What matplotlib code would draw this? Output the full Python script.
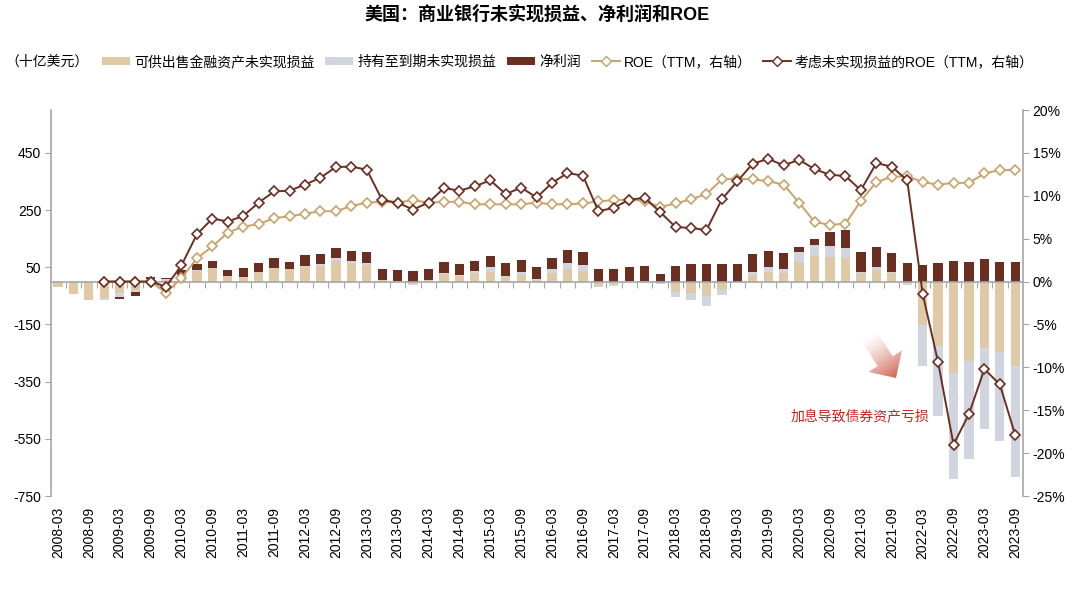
import numpy as np
import matplotlib
matplotlib.use('Agg')
import matplotlib.pyplot as plt
from matplotlib.lines import Line2D
from matplotlib.patches import Patch, Polygon

plt.rcParams['font.family'] = ['Liberation Sans', 'Noto Sans CJK SC']
plt.rcParams['axes.unicode_minus'] = False

quarters = [f"{y}-{m}" for y in range(2008, 2024) for m in ["03", "06", "09", "12"]][:63]

# 十亿美元
afs = [-18, -43, -64, -58, -41, -29, 10, 7, 23, 38,
       47, 20, 17, 35, 48, 44, 50, 55, 72, 64,
       58, 6, 3, -6, 5, 27, 20, 29, 35, 17,
       23, 5, 29, 43, 37, -14, -9, 2, 3, -6,
       -37, -41, -50, -29, -3, 23, 33, 29, 69, 91,
       87, 84, 29, 41, 29, -6, -153, -227, -321, -277,
       -231, -248, -294]
htm = [0, 0, -2, -6, -12, -8, 0, 2, 0, 2,
       2, 0, 0, 0, 0, 0, 6, 7, 9, 9,
       6, 0, 0, -6, 0, 4, 3, 7, 15, 4,
       10, 3, 15, 23, 22, -6, -5, 0, 0, -3,
       -18, -25, -34, -18, 0, 11, 19, 15, 36, 37,
       38, 35, 4, 11, 3, -6, -141, -243, -369, -343,
       -285, -309, -390]
net_income = [0, 0, 0, 0, -7, -15, 5, 2, 17, 23,
              24, 22, 30, 30, 35, 26, 37, 35, 37, 35,
              38, 38, 38, 38, 38, 37, 38, 36, 40, 43,
              42, 42, 40, 45, 46, 43, 43, 48, 52, 27,
              56, 61, 63, 61, 62, 63, 56, 55, 17, 20,
              50, 62, 72, 70, 68, 64, 59, 64, 71, 68,
              79, 70, 68]

# %
nan = np.nan
roe = [nan, nan, nan, 0, 0, 0, 0, -1.3, 0.4, 2.7,
       4.1, 5.7, 6.4, 6.7, 7.4, 7.6, 7.9, 8.2, 8.2, 8.8,
       9.2, 9.3, 9.2, 9.5, 9.2, 9.3, 9.3, 9.0, 9.0, 9.0,
       9.0, 9.2, 9.0, 9.0, 9.1, 9.35, 9.5, 9.55, 9.4, 8.7,
       9.1, 9.6, 10.2, 11.9, 12.0, 11.9, 11.7, 11.3, 9.2, 6.95,
       6.6, 6.75, 9.4, 11.6, 12.2, 12.3, 11.6, 11.3, 11.5, 11.5,
       12.6, 13.0, 13.0]
roe_adj = [nan, nan, nan, 0, 0, 0, 0, -0.6, 1.9, 5.5,
           7.35, 7.0, 7.65, 9.2, 10.5, 10.6, 11.3, 12.1, 13.35, 13.4,
           13.05, 9.5, 9.2, 8.4, 9.2, 10.9, 10.6, 11.1, 11.8, 10.2,
           10.95, 9.8, 11.5, 12.65, 12.35, 8.2, 8.6, 9.55, 9.75, 8.1,
           6.35, 6.25, 6.0, 9.6, 11.7, 13.75, 14.3, 13.55, 14.2, 13.1,
           12.45, 12.3, 10.65, 13.8, 13.4, 11.8, -1.4, -9.4, -19.0, -15.45,
           -10.2, -12.0, -17.9]

tan = '#e0c9a6'
gray_bar = '#d0d5df'
brown = '#6b2f22'
roe_color = '#c9a36c'
axis_gray = '#a6a6a6'

fig = plt.figure(figsize=(10.8, 5.89), dpi=100)
ax = fig.add_axes([51 / 1080, 1 - 496 / 589, 972 / 1080, 386 / 589])
ax2 = ax.twinx()

x = np.arange(len(quarters))
pos_base = np.zeros(len(x))
neg_base = np.zeros(len(x))
for vals, c in [(afs, tan), (htm, gray_bar), (net_income, brown)]:
    v = np.array(vals, float)
    base = np.where(v >= 0, pos_base, neg_base)
    ax.bar(x, v, 0.6, bottom=base, color=c, zorder=2)
    pos_base += np.clip(v, 0, None)
    neg_base += np.clip(v, None, 0)

ax.set_xlim(-0.45, len(x) - 0.5)
ax.set_ylim(-750, 600)
ax.set_yticks(np.arange(-750, 451, 200))
ax.tick_params(axis='y', length=4, color=axis_gray, labelsize=10, pad=3)
ax.spines['bottom'].set_position(('data', 0))
ax.set_xticks(x[:-1] + 0.5)
ax.tick_params(axis='x', length=4, color=axis_gray, labelbottom=False)
for s in ['top', 'right']:
    ax.spines[s].set_visible(False)
for s in ['left', 'bottom']:
    ax.spines[s].set_color(axis_gray)
    ax.spines[s].set_linewidth(1.2)

secx = ax.secondary_xaxis('bottom')
secx.set_xticks(x[::2], labels=[quarters[i] for i in x[::2]], rotation=90)
secx.tick_params(length=0, pad=8, labelsize=10)
secx.spines['bottom'].set_visible(False)

ax2.plot(x, roe, color=roe_color, lw=1.4, marker='D', ms=5.2, mfc='white',
         mec=roe_color, mew=1.2, zorder=3)
ax2.plot(x, roe_adj, color=brown, lw=1.4, marker='D', ms=5.2, mfc='white',
         mec=brown, mew=1.2, zorder=4)
ax2.set_ylim(-25, 20)
ax2.set_yticks(np.arange(-25, 21, 5))
ax2.set_yticklabels([f"{v}%" for v in range(-25, 21, 5)])
ax2.tick_params(axis='y', length=4, color=axis_gray, labelsize=10, pad=3)
for s in ['top', 'left', 'bottom']:
    ax2.spines[s].set_visible(False)
ax2.spines['right'].set_color(axis_gray)
ax2.spines['right'].set_linewidth(1.2)

handles = [Patch(facecolor=tan), Patch(facecolor=gray_bar), Patch(facecolor=brown),
           Line2D([], [], color=roe_color, lw=1.4, marker='D', ms=5.2, mfc='white', mec=roe_color),
           Line2D([], [], color=brown, lw=1.4, marker='D', ms=5.2, mfc='white', mec=brown)]
labels = ['可供出售金融资产未实现损益', '持有至到期未实现损益', '净利润',
          'ROE（TTM，右轴）', '考虑未实现损益的ROE（TTM，右轴）']
fig.legend(handles, labels, loc='center left', bbox_to_anchor=(102 / 1080, 1 - 62 / 589),
           ncol=5, frameon=False, fontsize=10, handlelength=2, handleheight=0.55,
           handletextpad=0.3, columnspacing=0.8, borderaxespad=0, borderpad=0)
fig.text(5 / 1080, 1 - 62 / 589, '（十亿美元）', va='center', fontsize=10)
fig.text(0.497, 1 - 14 / 589, '美国：商业银行未实现损益、净利润和ROE', ha='center', va='center',
         fontsize=13, fontweight='bold')

# annotation arrow with gradient, in pixel coordinates
ov = fig.add_axes([0, 0, 1, 1])
ov.set_xlim(0, 1080)
ov.set_ylim(589, 0)
ov.axis('off')
tail = np.array([869.0, 336.0])
tip = np.array([896.0, 378.0])
L = np.linalg.norm(tip - tail)
u = (tip - tail) / L
p = np.array([-u[1], u[0]])
B = tip - 20 * u
pts = np.array([tail + 9 * p, B + 9 * p, B + 20 * p, tip, B - 20 * p, B - 9 * p, tail - 9 * p])
arrow = Polygon(pts, closed=True, facecolor='none', edgecolor='none')
ov.add_patch(arrow)
xmin, ymin = pts.min(axis=0)
xmax, ymax = pts.max(axis=0)
gx, gy = np.meshgrid(np.linspace(xmin, xmax, 80), np.linspace(ymin, ymax, 80))
t = np.clip(((gx - tail[0]) * u[0] + (gy - tail[1]) * u[1]) / L, 0, 1)
img = np.zeros(gx.shape + (4,))
img[..., 0] = 0.80
img[..., 1] = 0.33
img[..., 2] = 0.25
img[..., 3] = t ** 1.3 * 0.9
im = ov.imshow(img, extent=(xmin, xmax, ymax, ymin), origin='upper', aspect='auto')
im.set_clip_path(arrow)
ov.set_xlim(0, 1080)
ov.set_ylim(589, 0)
ov.text(860, 416, '加息导致债券资产亏损', color='#cc2222', ha='center', va='center', fontsize=10)

fig.savefig('out.png', dpi=100)
